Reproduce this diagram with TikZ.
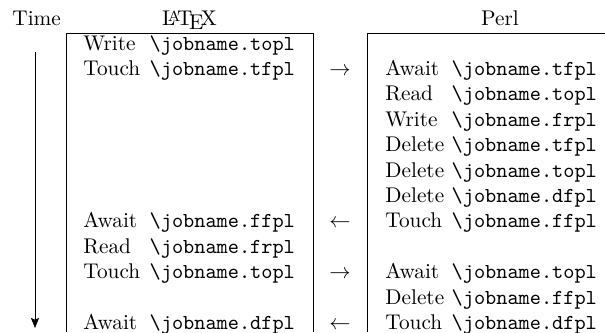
\documentclass[tikz,border=0pt]{standalone}
\usetikzlibrary{arrows.meta}
\newcommand{\vbx}[1]{\makebox[27.8pt][l]{#1}}
\newcommand{\jn}[1]{\texttt{\textbackslash jobname.#1}}
\begin{document}
\begin{tikzpicture}[x=0.47pt,y=-0.47pt,
  txt/.style={inner sep=0pt,anchor=base west},
  hdr/.style={inner sep=0pt,anchor=base},
  arr/.style={inner sep=0pt,anchor=base},
  rule/.style={line width=0.4pt}]
\useasboundingbox (0,0) rectangle (605,332);
% headers
\node[txt] (time) at (12,25) {Time};
\node[hdr] (latex) at (189.5,25) {\LaTeX};
\node[hdr] (perl) at (500,25) {Perl};
% boxes
\draw[rule] (66,332) -- (66,33) -- (313,33) -- (313,332);
\draw[rule] (367,332) -- (367,33) -- (605,33);
% time arrow
\coordinate (tstart) at (35,52);
\coordinate (tend) at (35,328);
\draw[rule,-{Stealth[length=4.7pt,width=3.8pt,inset=0.8pt]}] (tstart) -- (tend);
% left column
\node[txt] (l1) at (83,50) {\vbx{Write} \jn{topl}};
\node[txt] (l2) at (83,75.4) {\vbx{Touch} \jn{tfpl}};
\node[txt] (l8) at (83,227.8) {\vbx{Await} \jn{ffpl}};
\node[txt] (l9) at (83,253.2) {\vbx{Read} \jn{frpl}};
\node[txt] (l10) at (83,278.6) {\vbx{Touch} \jn{topl}};
\node[txt] (l12) at (83,329.4) {\vbx{Await} \jn{dfpl}};
% arrows
\node[arr] (a2) at (340,75.4) {$\rightarrow$};
\node[arr] (a8) at (340,227.8) {$\leftarrow$};
\node[arr] (a10) at (340,278.6) {$\rightarrow$};
\node[arr] (a12) at (340,329.4) {$\leftarrow$};
% right column
\node[txt] (r2) at (385,75.4) {\vbx{Await} \jn{tfpl}};
\node[txt] (r3) at (385,100.8) {\vbx{Read} \jn{topl}};
\node[txt] (r4) at (385,126.2) {\vbx{Write} \jn{frpl}};
\node[txt] (r5) at (385,151.6) {\vbx{Delete} \jn{tfpl}};
\node[txt] (r6) at (385,177) {\vbx{Delete} \jn{topl}};
\node[txt] (r7) at (385,202.4) {\vbx{Delete} \jn{dfpl}};
\node[txt] (r8) at (385,227.8) {\vbx{Touch} \jn{ffpl}};
\node[txt] (r10) at (385,278.6) {\vbx{Await} \jn{topl}};
\node[txt] (r11) at (385,304) {\vbx{Delete} \jn{ffpl}};
\node[txt] (r12) at (385,329.4) {\vbx{Touch} \jn{dfpl}};
\end{tikzpicture}
\end{document}
